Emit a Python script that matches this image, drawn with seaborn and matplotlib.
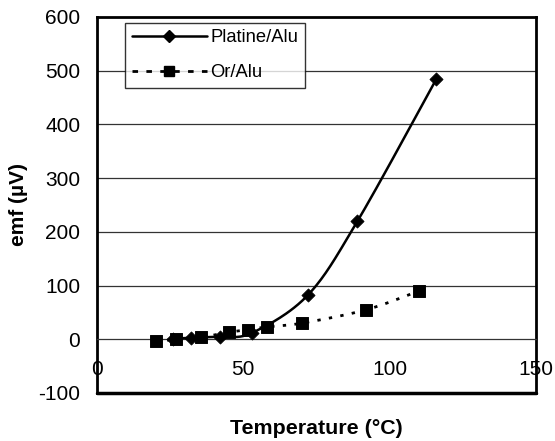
import numpy as np
import pandas as pd
import matplotlib
matplotlib.use("Agg")
import matplotlib.pyplot as plt
from matplotlib.lines import Line2D
import seaborn as sns

# values
platine_temp = [26, 32, 42, 53, 72, 89, 116]
platine_emf = [1, 3, 5, 12, 82, 220, 485]
or_temp = [20, 27, 35.5, 45, 51.5, 58, 70, 92, 110]
or_emf = [-4, 0, 4, 13, 18, 23, 30, 55, 90]
x_ticks = [0, 50, 100, 150]
y_ticks = [-100, 0, 100, 200, 300, 400, 500, 600]


def smooth(xs, ys, n=30):
    # Excel-like smoothed line (bezier through points, tension 1/6)
    p = np.column_stack([xs, ys]).astype(float)
    p = np.vstack([p[0], p, p[-1]])
    out = []
    for i in range(1, len(p) - 2):
        p0, p1, p2, p3 = p[i - 1], p[i], p[i + 1], p[i + 2]
        c1 = p1 + (p2 - p0) / 6
        c2 = p2 - (p3 - p1) / 6
        t = np.linspace(0, 1, n)[:, None]
        seg = ((1 - t) ** 3) * p1 + 3 * ((1 - t) ** 2) * t * c1 + 3 * (1 - t) * t ** 2 * c2 + t ** 3 * p2
        out.append(seg if i == 1 else seg[1:])
    out = np.vstack(out)
    return pd.DataFrame({"x": out[:, 0], "y": out[:, 1]})


sns.set_style("white")
plt.rcParams['font.family'] = ['Liberation Sans', 'DejaVu Sans']
plt.rcParams['axes.unicode_minus'] = False
plt.rcParams['text.color'] = 'black'
plt.rcParams['xtick.color'] = 'black'
plt.rcParams['ytick.color'] = 'black'

fs = 15
fig = plt.figure(figsize=(5.55, 4.41), dpi=100)
ax = fig.add_axes([97 / 555, 1 - 393 / 441, 439 / 555, 376 / 441])

pl = smooth(platine_temp, platine_emf)
orc = smooth(or_temp, or_emf)
sns.lineplot(data=pl, x="x", y="y", sort=False, color="black", lw=1.8, ax=ax, zorder=3)
sns.lineplot(data=orc, x="x", y="y", sort=False, color="black", lw=2, ax=ax, zorder=3)
ax.lines[-1].set_linestyle((0, (1.2, 3)))
sns.scatterplot(x=platine_temp, y=platine_emf, marker="D", s=45, color="black", edgecolor="black", ax=ax, zorder=4)
sns.scatterplot(x=or_temp, y=or_emf, marker="s", s=70, color="black", edgecolor="black", ax=ax, zorder=4)

ax.set_xlim(0, 150)
ax.set_ylim(-100, 600)
ax.set_xticks(x_ticks)
ax.set_yticks(y_ticks)

for v in y_ticks[2:-1]:
    ax.axhline(v, color="#333333", lw=0.9, zorder=1)

# x axis crosses at y = 0
ax.spines["bottom"].set_position(("data", 0))
ax.spines["bottom"].set_linewidth(0.9)
ax.spines["bottom"].set_color("#333333")
for s in ["left", "right", "top"]:
    ax.spines[s].set_linewidth(2)
    ax.spines[s].set_color("black")
ax.axhline(-100, color="black", lw=2.5, clip_on=False, zorder=5)
ax.tick_params(axis="x", direction="out", length=5, width=0.9, color="#333333",
               labelcolor="black", pad=10, labelsize=fs)
ax.tick_params(axis="y", direction="out", length=5, width=0.9, color="#333333",
               labelcolor="black", pad=7, labelsize=fs)

ax.set_xlabel("")
ax.set_ylabel("")
fig.text(18 / 555, 1 - 205 / 441, "emf (µV)", ha="center", va="center", rotation=90,
         fontsize=fs, fontweight="bold", color="black")
fig.text(316 / 555, 1 - 428 / 441, "Temperature (°C)", ha="center", va="center",
         fontsize=fs + 0.4, fontweight="bold", color="black")

handles = [
    Line2D([], [], color="black", lw=1.8, marker="D", markersize=6),
    Line2D([], [], color="black", lw=2, ls=(0, (2, 3)), marker="s", markersize=7),
]
leg = ax.legend(handles, ["Platine/Alu", "Or/Alu"], loc="upper left",
                bbox_to_anchor=(0.064, 0.985), fontsize=13.2, frameon=True,
                fancybox=False, edgecolor="black", handlelength=4.1,
                handletextpad=0.2, borderpad=0.35, labelspacing=1.0,
                borderaxespad=0)
leg.get_frame().set_linewidth(1)
leg.set_zorder(6)
for t in leg.get_texts():
    t.set_color("black")

fig.savefig("out.png", dpi=100, facecolor="white")
